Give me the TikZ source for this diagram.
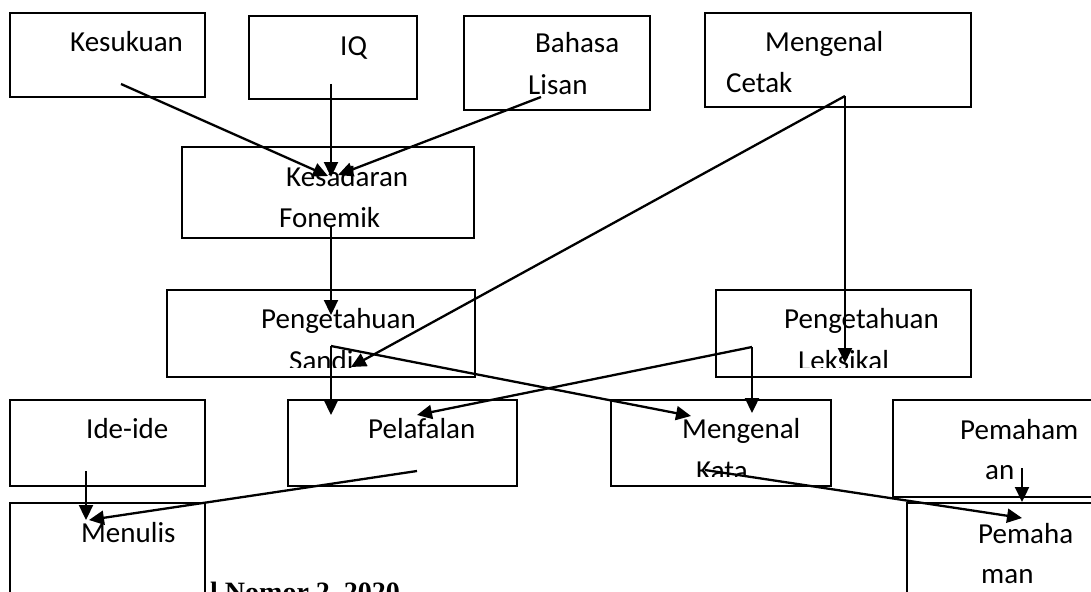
\documentclass[tikz,border=0pt]{standalone}
\usepackage{fontspec}
\setmainfont{Carlito}
\newfontfamily\footfont{Liberation Serif}
\usetikzlibrary{arrows.meta}

\begin{document}
\begin{tikzpicture}[
        x=1pt, y=-1pt,
        box/.style={rectangle, draw, line width=1.4pt, anchor=north west, inner sep=0pt, outer sep=0pt},
        lbl/.style={anchor=base west, inner sep=0pt, font=\fontsize{29}{35}\selectfont},
        arrow/.style={->, >={Triangle[length=15pt, width=14pt]}, line width=2.3pt}
    ]
        \useasboundingbox (0,0) rectangle (1091,591);
        \clip (0,0) rectangle (1091,591);

        % boxes
        \node (kesukuan) [box, minimum width=195pt, minimum height=84pt] at (10,13) {};
        \node (iq) [box, minimum width=168pt, minimum height=83pt] at (249,16) {};
        \node (bahasa) [box, minimum width=186pt, minimum height=94pt] at (464,16) {};
        \node (cetak) [box, minimum width=266pt, minimum height=94pt] at (705,13) {};
        \node (kesadaran) [box, minimum width=292pt, minimum height=91pt] at (182,147) {};
        \node (sandi) [box, minimum width=308pt, minimum height=87pt] at (167,290) {};
        \node (leksikal) [box, minimum width=255pt, minimum height=87pt] at (716,290) {};
        \node (ide) [box, minimum width=195pt, minimum height=86pt] at (10,400) {};
        \node (pelafalan) [box, minimum width=229pt, minimum height=86pt] at (288,400) {};
        \node (kata) [box, minimum width=220pt, minimum height=86pt] at (611,400) {};
        \node (pemahaman) [box, minimum width=230pt, minimum height=97pt] at (893,400) {};
        \node (menulis) [box, minimum width=195pt, minimum height=120pt] at (10,503) {};
        \node (pemahaman2) [box, minimum width=230pt, minimum height=120pt] at (907,503) {};

        % labels
        \node (kesukuan-l1) [lbl] at (70,52) {Kesukuan};
        \node (iq-l1) [lbl] at (340,56) {IQ};
        \node (bahasa-l1) [lbl] at (535,53) {Bahasa};
        \node (bahasa-l2) [lbl] at (528,95) {Lisan};
        \node (cetak-l1) [lbl] at (765,52) {Mengenal};
        \node (cetak-l2) [lbl] at (726,93) {Cetak};
        \node (kesadaran-l1) [lbl] at (286,186) {Kesadaran};
        \node (kesadaran-l2) [lbl] at (279,227) {Fonemik};
        \node (sandi-l1) [lbl] at (261,328) {Pengetahuan};
        \node (leksikal-l1) [lbl] at (784,328) {Pengetahuan};
        \begin{scope}
            \clip (0,0) rectangle (1091,367);
            \node (sandi-l2) [lbl] at (289,370) {Sandi};
            \node (leksikal-l2) [lbl] at (798,370) {Leksikal};
        \end{scope}
        \node (ide-l1) [lbl] at (86,438) {Ide-ide};
        \node (pelafalan-l1) [lbl] at (368,438) {Pelafalan};
        \node (kata-l1) [lbl] at (682,438) {Mengenal};
        \begin{scope}
            \clip (0,0) rectangle (1091,476);
            \node (kata-l2) [lbl] at (696,480) {Kata};
        \end{scope}
        \node (pemahaman-l1) [lbl] at (960,439) {Pemaham};
        \node (pemahaman-l2) [lbl] at (985,479) {an};
        \node (menulis-l1) [lbl] at (81,542) {Menulis};
        \node (pemahaman2-l1) [lbl] at (978,543) {Pemaha};
        \node (pemahaman2-l2) [lbl] at (981,583) {man};
        \node (footer) [anchor=base west, inner sep=0pt, font=\footfont\bfseries\fontsize{28}{34}\selectfont] at (210,601) {l Nomor 2, 2020};

        % connector ends
        \coordinate (kesukuan-out) at (121,84);
        \coordinate (iq-out) at (331,84);
        \coordinate (bahasa-out) at (541,97);
        \coordinate (kesadaran-in1) at (328,176);
        \coordinate (kesadaran-in2) at (331,177);
        \coordinate (kesadaran-in3) at (338,175);
        \coordinate (kesadaran-out) at (331,226);
        \coordinate (sandi-in1) at (331,315);
        \coordinate (sandi-in2) at (351,367);
        \coordinate (cetak-out) at (845,96);
        \coordinate (leksikal-in) at (845,363);
        \coordinate (sandi-out) at (331,346);
        \coordinate (leksikal-out) at (752,347);
        \coordinate (pelafalan-in1) at (331,415);
        \coordinate (pelafalan-in2) at (417,415);
        \coordinate (kata-in1) at (691,416);
        \coordinate (kata-in2) at (752,413);
        \coordinate (ide-out) at (86,471);
        \coordinate (pelafalan-out) at (417,471);
        \coordinate (menulis-in1) at (86,520);
        \coordinate (menulis-in2) at (89,520);
        \coordinate (kata-out) at (705,470);
        \coordinate (pemahaman-out) at (1022,468);
        \coordinate (pemahaman2-in1) at (1022,518);
        \coordinate (pemahaman2-in2) at (1022,502);

        \draw[arrow] (kesukuan-out) -- (kesadaran-in1);
        \draw[arrow] (iq-out) -- (kesadaran-in2);
        \draw[arrow] (bahasa-out) -- (kesadaran-in3);
        \draw[arrow] (kesadaran-out) -- (sandi-in1);
        \draw[arrow] (cetak-out) -- (sandi-in2);
        \draw[arrow] (cetak-out) -- (leksikal-in);
        \draw[arrow] (sandi-out) -- (pelafalan-in1);
        \draw[arrow] (sandi-out) -- (kata-in1);
        \draw[arrow] (leksikal-out) -- (pelafalan-in2);
        \draw[arrow] (leksikal-out) -- (kata-in2);
        \draw[arrow] (ide-out) -- (menulis-in1);
        \draw[arrow] (pelafalan-out) -- (menulis-in2);
        \draw[arrow] (kata-out) -- (pemahaman2-in1);
        \draw[arrow] (pemahaman-out) -- (pemahaman2-in2);

    \end{tikzpicture}
\end{document}
